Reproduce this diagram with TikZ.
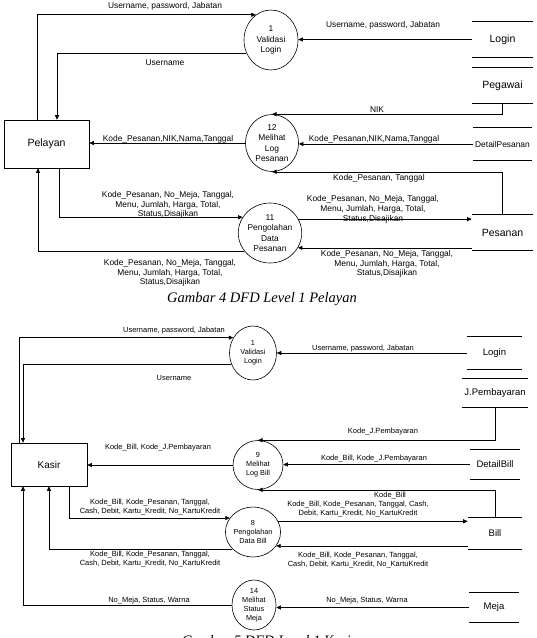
\documentclass[tikz,border=0pt]{standalone}
\usepackage{fontspec}
\setmainfont{Liberation Sans}
\newfontfamily\capfont{Liberation Serif}
\usetikzlibrary{shapes.geometric,arrows.meta}
\begin{document}
\begin{tikzpicture}[x=1pt,y=-1pt,
  line width=0.6pt,
  arr/.style={-{Triangle[length=4.5pt,width=4pt]}},
  proc/.style={ellipse,draw,inner sep=0pt,align=center},
  procA/.style={proc,font=\fontsize{8.4}{10.3}\selectfont},
  procB/.style={proc,font=\fontsize{7.3}{9}\selectfont},
  ent/.style={draw,inner sep=0pt},
  store/.style={inner sep=0pt},
  lblA/.style={font=\fontsize{8.4}{9.8}\selectfont,align=center,inner sep=0pt},
  lblB/.style={font=\fontsize{7.5}{9}\selectfont,align=center,inner sep=0pt},
  capt/.style={font=\capfont\itshape\fontsize{14.5}{17}\selectfont,inner sep=0pt,anchor=base}]
\useasboundingbox (0,0) rectangle (537,638);
\clip (0,0) rectangle (537,638);

% ================= Level 1 Pelayan =================
\node[ent,minimum width=85pt,minimum height=48pt,font=\fontsize{10.5}{12}\selectfont] (pelayan) at (46.5,144) {Pelayan};
\node[procA,minimum width=54pt,minimum height=60pt] (v1) at (271,40) {1\\Validasi\\Login};
\node[procA,minimum width=53pt,minimum height=57pt] (v12) at (272,143) {12\\Melihat\\Log\\Pesanan};
\node[procA,minimum width=54pt,minimum height=60pt] (v11) at (270,233) {11\\Pengolahan\\Data\\Pesanan};

\node[store,minimum width=61pt,minimum height=35pt,font=\fontsize{10.5}{12}\selectfont] (login) at (502.5,39.5) {Login};
\node[store,minimum width=61pt,minimum height=35pt,font=\fontsize{10.5}{12}\selectfont] (pegawai) at (502.5,85.5) {Pegawai};
\node[store,minimum width=59pt,minimum height=32pt,font=\fontsize{8.4}{10}\selectfont] (detailpesanan) at (502.5,144) {DetailPesanan};
\node[store,minimum width=61pt,minimum height=35pt,font=\fontsize{10.5}{12}\selectfont] (pesanan) at (502.5,232.5) {Pesanan};

\foreach \s in {login,pegawai,detailpesanan,pesanan}
  \draw (\s.north west) -- (\s.north east) (\s.south west) -- (\s.south east);

\draw[arr] ([xshift=-9.5pt]pelayan.north) |- (v1.121);
\draw[arr] (v1.208) -| ([xshift=10.5pt]pelayan.north);
\draw[arr] (login.west) -- (login.west -| v1.east);
\draw[arr] (pegawai.south) |- (v12.north);
\draw[arr] (detailpesanan.west) -- (detailpesanan.west -| v12.east);
\draw[arr] (v12.west) -- (v12.west -| pelayan.east);
\draw[arr] (pesanan.north) |- (v12.south);
\draw[arr] ([xshift=12.5pt]pelayan.south) |- (v11.150);
\draw[arr] (v11.215) -| ([xshift=-8.5pt]pelayan.south);
\draw[arr] (v11.26) -- (v11.26 -| pesanan.west);
\draw[arr] (pesanan.west |- v11.332) -- (v11.332);

\node[lblA] (t1) at (165,6) {Username, password, Jabatan};
\node[lblA] (t2) at (165,63) {Username};
\node[lblA] (t3) at (383,25) {Username, password, Jabatan};
\node[lblA] (t4) at (377,110) {NIK};
\node[lblA] (t5) at (168,139) {Kode\_Pesanan,NIK,Nama,Tanggal};
\node[lblA] (t6) at (374,139) {Kode\_Pesanan,NIK,Nama,Tanggal};
\node[lblA] (t7) at (379,178) {Kode\_Pesanan, Tanggal};
\node[lblA] (t8) at (168,205) {Kode\_Pesanan, No\_Meja, Tanggal,\\Menu, Jumlah, Harga, Total,\\Status,Disajikan};
\node[lblA] (t9) at (373,209.5) {Kode\_Pesanan, No\_Meja, Tanggal,\\Menu, Jumlah, Harga, Total,\\Status,Disajikan};
\node[lblA] (t10) at (387,264) {Kode\_Pesanan, No\_Meja, Tanggal,\\Menu, Jumlah, Harga, Total,\\Status,Disajikan};
\node[lblA] (t11) at (170,273) {Kode\_Pesanan, No\_Meja, Tanggal,\\Menu, Jumlah, Harga, Total,\\Status,Disajikan};

\node[capt] (cap1) at (262,302) {Gambar 4 DFD Level 1 Pelayan};

% ================= Level 1 Kasir =================
\node[ent,minimum width=76pt,minimum height=43pt,font=\fontsize{10}{12}\selectfont] (kasir) at (49,464.5) {Kasir};
\node[procB,minimum width=47pt,minimum height=54pt] (b1) at (253,353) {1\\Validasi\\Login};
\node[procB,minimum width=50pt,minimum height=49pt] (b9) at (258,465) {9\\Melihat\\Log Bill};
\node[procB,minimum width=46pt,minimum height=50pt] (b8) at (253,532) {8\\Pengolahan\\Data Bill};
\node[procB,minimum width=44pt,minimum height=50pt] (b14) at (254,605) {14\\Melihat\\Status\\Meja};

\node[store,minimum width=55pt,minimum height=32pt,font=\fontsize{9.5}{11}\selectfont] (login2) at (494.5,353) {Login};
\node[store,minimum width=66pt,minimum height=28pt,font=\fontsize{9.5}{11}\selectfont] (jpem) at (495,393) {J.Pembayaran};
\node[store,minimum width=50pt,minimum height=29pt,font=\fontsize{9.5}{11}\selectfont] (detailbill) at (495,464.5) {DetailBill};
\node[store,minimum width=54pt,minimum height=31pt,font=\fontsize{9.5}{11}\selectfont] (bill) at (495,533.5) {Bill};
\node[store,minimum width=50pt,minimum height=29pt,font=\fontsize{9.5}{11}\selectfont] (meja) at (494,607.5) {Meja};

\foreach \s in {login2,jpem,detailbill,bill,meja}
  \draw (\s.north west) -- (\s.north east) (\s.south west) -- (\s.south east);

\draw[arr] ([xshift=-30pt]kasir.north) |- (b1.142);
\draw[arr] (b1.207) -| ([xshift=-26pt]kasir.north);
\draw[arr] (login2.west) -- (login2.west -| b1.east);
\draw[arr] (jpem.south) |- (b9.north);
\draw[arr] (detailbill.west) -- (detailbill.west -| b9.east);
\draw[arr] (b9.west) -- (b9.west -| kasir.east);
\draw[arr] (bill.north) |- (b9.south);
\draw[arr] ([xshift=20pt]kasir.south) |- (b8.149);
\draw[arr] (b8.219) -| (kasir.south);
\draw[arr] (b8.23) -- (b8.23 -| bill.west);
\draw[arr] (bill.west |- b8.329) -- (b8.329);
\draw[arr] (meja.west) -- (meja.west -| b14.east);
\draw[arr] (b14.west) -| ([xshift=-26pt]kasir.south);

\node[lblB] (u1) at (174,331) {Username, password, Jabatan};
\node[lblB] (u2) at (174,378) {Username};
\node[lblB] (u3) at (363,349) {Username, password, Jabatan};
\node[lblB] (u4) at (383,432) {Kode\_J.Pembayaran};
\node[lblB] (u5) at (374,459) {Kode\_Bill, Kode\_J.Pembayaran};
\node[lblB] (u6) at (158,448) {Kode\_Bill, Kode\_J.Pembayaran};
\node[lblB] (u7) at (390,496) {Kode\_Bill};
\node[lblB] (u8) at (358,509.5) {Kode\_Bill, Kode\_Pesanan, Tanggal, Cash,\\Debit, Kartu\_Kredit, No\_KartuKredit};
\node[lblB] (u9) at (358,560) {Kode\_Bill, Kode\_Pesanan, Tanggal,\\Cash, Debit, Kartu\_Kredit, No\_KartuKredit};
\node[lblB] (u10) at (150,507.5) {Kode\_Bill, Kode\_Pesanan, Tanggal,\\Cash, Debit, Kartu\_Kredit, No\_KartuKredit};
\node[lblB] (u11) at (150,559.5) {Kode\_Bill, Kode\_Pesanan, Tanggal,\\Cash, Debit, Kartu\_Kredit, No\_KartuKredit};
\node[lblB] (u12) at (149,601) {No\_Meja, Status, Warna};
\node[lblB] (u13) at (367,601) {No\_Meja, Status, Warna};

\node[capt] (cap2) at (269,645.5) {Gambar 5 DFD Level 1 Kasir};
\end{tikzpicture}
\end{document}
